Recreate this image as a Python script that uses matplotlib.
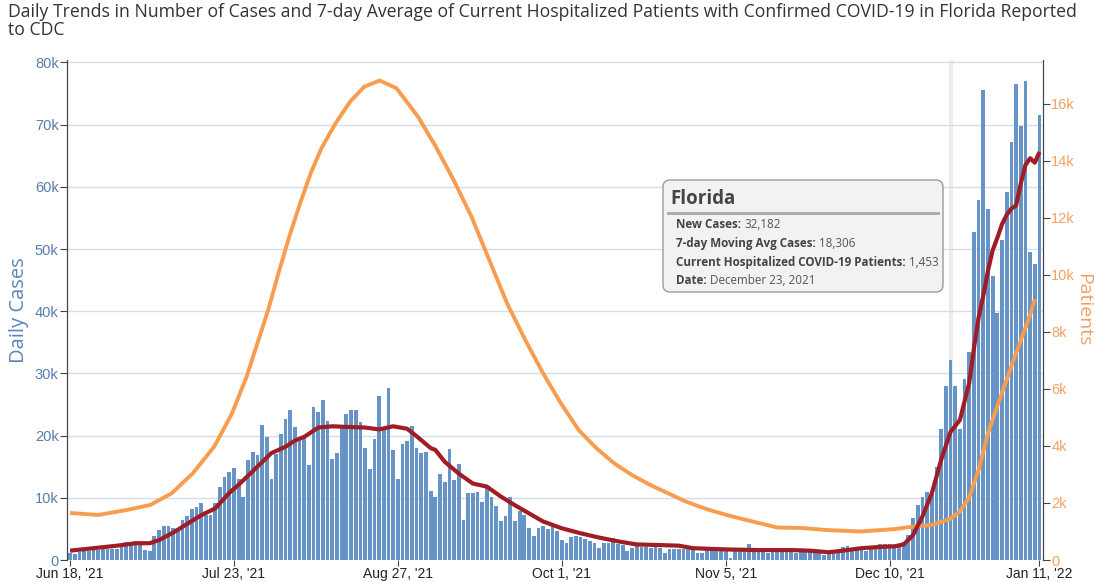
import datetime as dt
import matplotlib
matplotlib.use('Agg')
import matplotlib.pyplot as plt
import matplotlib.dates as mdates
from matplotlib.patches import FancyBboxPatch
from matplotlib.lines import Line2D
from matplotlib.transforms import IdentityTransform

# daily new cases (thousands), one per day from Jun 18 2021 to Jan 11 2022
start = dt.date(2021, 6, 18)
new_cases_k = [
    1.2, 1.0, 1.3, 1.4, 1.5, 1.6, 1.6, 1.7, 1.7, 1.8, 1.8, 2.6, 2.9, 2.8, 3.1, 2.4, 1.6, 1.5,
    3.9, 4.8, 5.4, 5.5, 5.1, 4.6, 6.5, 7.0, 8.2, 8.5, 9.1, 7.3, 7.3, 9.2, 11.7, 13.3, 14.2, 14.8,
    13.1, 10.2, 16.0, 17.4, 16.9, 21.7, 19.7, 13.1, 17.0, 20.2, 22.7, 24.1, 21.4, 19.6, 19.9, 15.3,
    24.6, 23.8, 25.8, 22.3, 16.3, 17.2, 21.5, 23.5, 24.1, 24.1, 22.2, 18.0, 14.7, 19.4, 26.3, 21.2,
    27.7, 17.7, 13.1, 18.7,
    19.2, 21.5, 18.0, 17.2, 17.3, 11.1, 10.2, 13.8, 12.5, 17.9, 12.9, 15.4, 6.5, 10.8, 10.8, 11.0,
    9.4, 11.6, 10.2, 8.7, 6.3, 7.0, 10.1, 6.3, 7.8, 7.3, 5.1, 3.8, 5.1, 5.5, 5.0, 5.9, 4.6,
    3.2, 2.7, 3.7, 3.8, 3.7, 3.3, 3.1, 2.8, 1.9, 2.7, 2.7, 3.5, 2.5, 2.4, 1.5, 1.9, 2.2, 2.1, 2.1,
    1.9, 2.6, 1.9, 1.1, 1.7, 1.7,
    1.8, 1.7, 1.7, 1.6, 1.1, 1.2, 1.7, 1.7, 1.6, 1.7, 1.6, 0.3, 1.6, 1.6, 1.7, 2.6, 1.6, 1.6, 1.5,
    1.2, 1.6, 1.6, 1.5, 1.6, 1.5, 1.2, 1.5, 1.4, 1.4, 1.3, 1.3, 0.8, 1.1, 1.2, 1.4, 2.1, 2.2, 1.6,
    1.8, 1.8, 1.5, 1.9, 2.0, 2.6, 2.5, 2.6, 2.0,
    2.4, 2.9, 4.0, 6.8, 8.8, 10.2, 11.0, 11.0, 15.0, 21.1, 27.9, 32.2, 27.9, 21.1, 29.1, 33.5,
    52.8, 57.9, 75.6, 56.4, 45.7, 39.7, 51.4, 59.2, 67.2, 76.6, 69.8, 77.0, 49.6, 47.6, 71.6,
]

# 7-day moving average of cases (thousands), read at these day offsets
avg_days = [0, 5, 10, 14, 17, 19, 22, 25, 28, 31, 34, 36, 40, 43, 46, 48, 50, 53, 56, 59,
            63, 66, 69, 72, 74, 77, 78, 80, 83, 86, 89, 92, 95, 98, 101, 105, 109, 113, 117,
            121, 126, 130, 133, 140, 147, 154, 158, 162, 165, 169, 173, 176, 178, 180, 182,
            184, 186, 188, 190, 192, 193, 194, 195, 196, 197, 198, 199, 200, 201, 202, 203,
            204, 205, 206, 207]
avg_cases_k = [1.5, 1.9, 2.3, 2.7, 2.7, 3.2, 4.4, 5.8, 7.2, 8.3, 10.8, 12.1, 15.0, 17.2,
               18.2, 19.2, 19.8, 21.3, 21.5, 21.4, 21.3, 21.0, 21.5, 21.1, 19.9, 18.0, 17.7,
               15.8, 13.9, 12.3, 11.8, 10.2, 8.8, 7.5, 6.2, 5.1, 4.3, 3.6, 3.0, 2.5, 2.4, 2.3,
               1.9, 1.7, 1.6, 1.6, 1.5, 1.25, 1.5, 1.9, 2.1, 2.2, 2.5, 4.0, 7.0, 10.7, 16.1,
               20.6, 22.5, 28.5, 34.0, 39.0, 42.5, 46.5, 49.8, 51.8, 54.0, 55.5, 56.5, 57.0,
               60.5, 63.5, 64.6, 63.9, 65.6]

# current hospitalized patients (thousands), read at these day offsets
hosp_days = [0, 6, 12, 17.1, 21.7, 26.2, 30.8, 34.6, 37.7, 40.0, 42.3, 44.5, 46.8, 49.1,
             51.4, 53.7, 56.7, 59.8, 62.8, 66.1, 69.7, 74.3, 78.1, 81.9, 85.7, 89.5, 93.3,
             97.2, 101.0, 104.8, 108.6, 112.4, 116.2, 120.0, 123.9, 127.7, 131.5, 136.0,
             140.2, 144.0, 147.3, 151.0, 156.6, 161.6, 168.7, 175.8, 180, 184, 188, 190, 192,
             194, 196, 198, 201, 203, 205, 206]
hosp_k = [1.65, 1.58, 1.75, 1.93, 2.34, 3.04, 3.98, 5.15, 6.43, 7.6, 8.77, 10.06, 11.34, 12.5,
          13.57, 14.45, 15.32, 16.08, 16.6, 16.82, 16.55, 15.55, 14.5, 13.33, 12.05, 10.53,
          9.01, 7.72, 6.55, 5.5, 4.56, 3.92, 3.39, 2.98, 2.63, 2.34, 2.05, 1.78, 1.58, 1.42,
          1.29, 1.14, 1.12, 1.05, 1.0, 1.08, 1.17, 1.23, 1.45, 1.7, 2.2, 3.16, 4.45, 5.4, 6.8,
          7.7, 8.6, 9.15]

tick_offsets = [0, 35, 70, 105, 140, 175, 207]
left_ticks = [0, 10, 20, 30, 40, 50, 60, 70, 80]
right_ticks = [0, 2, 4, 6, 8, 10, 12, 14, 16]

tip_state = 'Florida'
tip_rows = [('New Cases:', '32,182'),
            ('7-day Moving Avg Cases:', '18,306'),
            ('Current Hospitalized COVID-19 Patients:', '1,453'),
            ('Date:', 'December 23, 2021')]
tip_offset = 188

def to_date(off):
    return mdates.date2num(start) + off

days = [to_date(i) for i in range(len(new_cases_k))]

fig = plt.figure(figsize=(10.95, 5.82), dpi=100)
ax = fig.add_axes([67/1095, 1-560/582, (1043-67)/1095, 500/582])
ax2 = ax.twinx()
ax3 = ax.twinx()

blue = '#6694c6'
red = '#a01d26'
orange = '#f89d4f'

ax.axvline(to_date(tip_offset), color='#ececec', lw=3, zorder=0.5)
ax.bar(days, new_cases_k, width=0.8, color=blue, linewidth=0, zorder=2)
ax.set_axisbelow(True)
ax.yaxis.grid(True, color='#d3deea', lw=1)
ax.set_ylim(0, 80.4)
ax.set_yticks(left_ticks)
ax.set_yticklabels(['0'] + [f'{v}k' for v in left_ticks[1:]])

ax2.plot([to_date(d) for d in hosp_days], hosp_k, color=orange, lw=2.8,
         solid_capstyle='butt', solid_joinstyle='round')
ax2.set_ylim(0, 17.54)
ax2.set_yticks(right_ticks)
ax2.set_yticklabels(['0'] + [f'{v}k' for v in right_ticks[1:]])

ax3.plot([to_date(d) for d in avg_days], avg_cases_k, color=red, lw=3.0,
         solid_capstyle='butt', solid_joinstyle='round')
ax3.set_ylim(ax.get_ylim())
ax3.axis('off')

ax.set_xlim(to_date(-0.65), to_date(207.75))
tds = [to_date(o) for o in tick_offsets]
ax.set_xticks(tds)
ax.set_xticklabels([f"{d:%b} {d.day}, '{d:%y}" for d in mdates.num2date(tds)])

for a in (ax, ax2):
    a.spines['top'].set_visible(False)
    a.spines['bottom'].set_visible(False)
    a.spines['left'].set_color('#444444')
    a.spines['right'].set_color('#444444')
ax.tick_params(axis='x', colors='#444444', labelcolor='#222222', labelsize=10,
               length=4, pad=1)
for lab in ax.get_xticklabels():
    lab.set_fontfamily('Liberation Sans')
ax.tick_params(axis='y', colors='#444444', labelcolor='#5a7dac', labelsize=10.5, length=5, pad=1)
ax2.tick_params(axis='y', colors='#444444', labelcolor='#f2a365', labelsize=10.5, length=5, pad=1)
for lab in ax.get_yticklabels() + ax2.get_yticklabels():
    lab.set_fontfamily('Liberation Sans')

ax.set_ylabel('Daily Cases', color='#5b85bb', fontsize=14.5, fontfamily='Open Sans', labelpad=4)
ax2.set_ylabel('Patients', color='#f2a060', fontsize=14, fontfamily='Open Sans',
               rotation=270, labelpad=12)

fig.text(8/1095, 1-3/582, 'Daily Trends in Number of Cases and 7-day Average of Current '
         'Hospitalized Patients with Confirmed COVID-19 in Florida Reported\nto CDC',
         ha='left', va='top', fontsize=12.7, fontfamily='Open Sans', color='#333333',
         linespacing=1.0)

# hover tooltip
H = 582
ident = IdentityTransform()
box = FancyBboxPatch((663, H-292), 280, 112, boxstyle='round,pad=0,rounding_size=7',
                     facecolor='#f2f2f2', edgecolor='#9a9a9a', lw=1, transform=ident, zorder=10)
fig.add_artist(box)
fig.add_artist(Line2D([668, 938], [H-213, H-213], color='#a8a8a8', lw=2, transform=ident,
                      zorder=11))
fig.text(670, H-204, tip_state, transform=ident, fontsize=13.5, fontweight='bold',
         fontfamily='Open Sans', color='#444444', zorder=12)
renderer = fig.canvas.get_renderer()
for i, (lab, val) in enumerate(tip_rows):
    yb = H - (228 + 18.8*i)
    t = fig.text(676, yb, lab, transform=ident, fontsize=8.4, fontweight='bold',
                 fontfamily='Open Sans', color='#444444', zorder=12)
    x1 = t.get_window_extent(renderer).x1
    fig.text(x1 + 3, yb, val, transform=ident, fontsize=8.4, fontfamily='Open Sans',
             color='#555555', zorder=12)

fig.savefig('out.png', dpi=100)
